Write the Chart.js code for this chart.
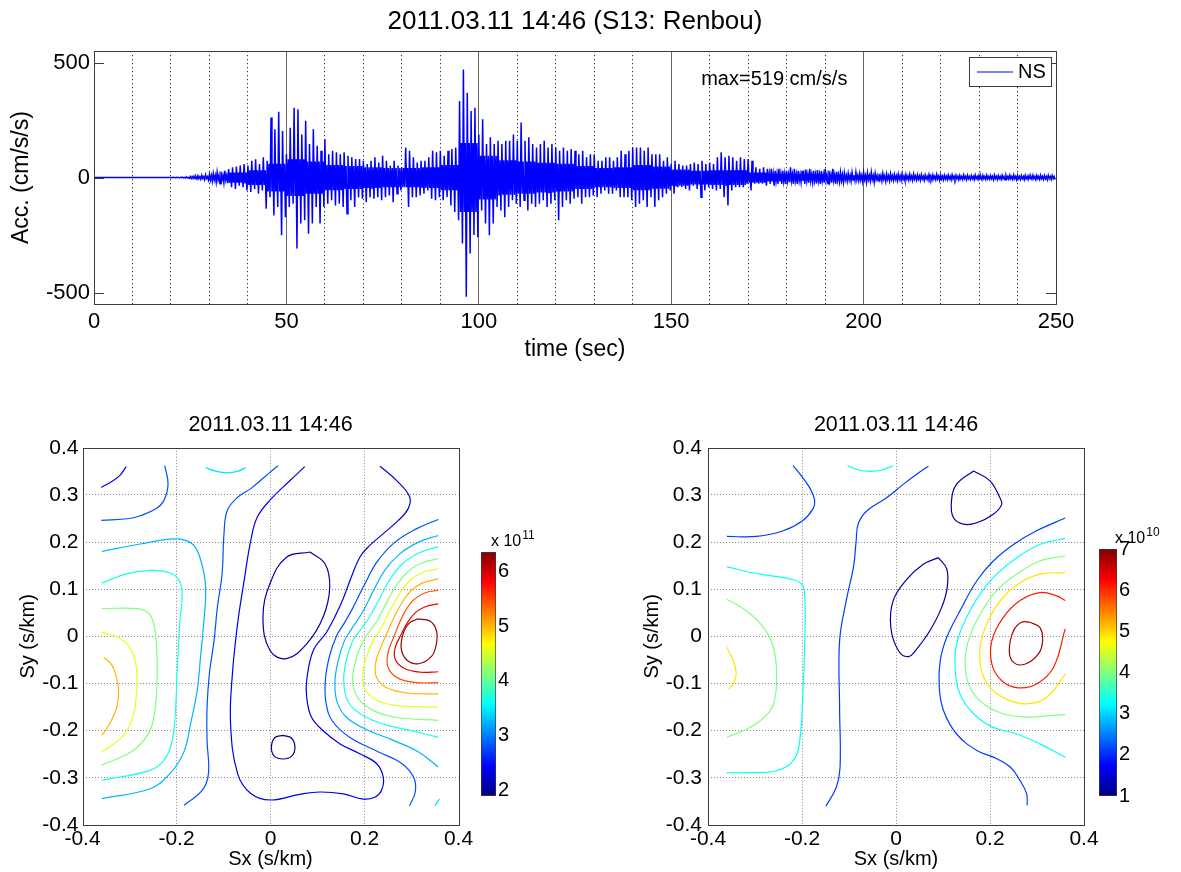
<!DOCTYPE html>
<html>
<head>
<meta charset="utf-8">
<script src="https://cdn.jsdelivr.net/npm/chart.js@4.4.1/dist/chart.umd.min.js"></script>
<style>
  body { margin: 0; background: #fff; width: 1181px; height: 872px; position: relative; overflow: hidden; }
  canvas { position: absolute; }
</style>
</head>
<body>
<canvas id="wave" width="1150" height="375" style="left:0px;top:0px"></canvas>
<canvas id="slowL" width="541" height="480" style="left:0px;top:395px"></canvas>
<canvas id="cbL" width="70" height="300" style="left:470px;top:510px"></canvas>
<canvas id="slowR" width="552" height="480" style="left:620px;top:395px"></canvas>
<canvas id="cbR" width="96" height="300" style="left:1085px;top:510px"></canvas>
<script>
// ---- waveform: per-second peak (hi) and trough (lo), cm/s/s, t = 0..249 s
const accHi = [
  0,0,0,0,0,0,0,0,0,0,
  0,0,0,0,0,0,0,0,0,0,
  0,0,0,2,3,5,6,8,10,12,
  14,18,23,26,30,37,45,48,52,59,
  52,73,80,59,88,73,261,210,287,203,
  102,217,304,297,188,247,146,210,138,117,
  167,102,117,110,102,110,95,88,81,81,
  73,59,73,88,66,95,73,52,73,52,
  45,131,117,88,66,73,73,88,117,110,
  117,95,117,124,131,333,470,369,290,304,
  188,254,146,175,146,160,146,160,160,188,
  160,240,160,175,146,131,146,160,131,146,
  131,117,131,117,124,117,102,117,88,102,
  102,73,73,88,88,73,88,117,102,117,
  131,131,131,117,131,102,102,102,73,88,
  59,73,59,52,52,59,66,59,73,59,
  66,59,88,110,88,95,88,73,88,81,
  81,73,45,38,45,38,38,30,38,30,
  30,45,38,30,30,35,38,30,33,28,
  38,30,38,25,23,20,18,22,23,18,
  23,20,23,18,16,18,15,17,14,15,
  16,13,14,15,12,13,11,13,12,14,
  12,10,11,12,10,9,11,10,9,11,
  10,9,10,9,11,9,10,9,10,11,
  10,9,10,9,10,9,10,9,10,9
];
const accLo = [
  0,0,0,0,0,0,0,0,0,0,
  0,0,0,0,0,0,0,0,0,0,
  0,0,0,-2,-3,-4,-6,-7,-9,-10,
  -16,-20,-27,-22,-24,-42,-49,-35,-42,-56,
  -63,-49,-70,-56,-135,-85,-165,-128,-251,-172,
  -128,-114,-309,-200,-186,-244,-200,-128,-200,-128,
  -114,-99,-121,-114,-128,-157,-99,-128,-85,-92,
  -107,-85,-92,-85,-99,-85,-78,-107,-70,-56,
  -42,-128,-85,-85,-78,-70,-56,-92,-99,-85,
  -99,-85,-121,-150,-186,-287,-518,-330,-250,-260,
  -143,-200,-251,-200,-128,-143,-172,-128,-99,-114,
  -128,-99,-143,-114,-128,-114,-99,-128,-114,-99,
  -186,-128,-99,-114,-92,-85,-114,-85,-85,-78,
  -85,-70,-56,-70,-70,-56,-85,-85,-85,-99,
  -128,-114,-99,-128,-85,-128,-99,-85,-70,-56,
  -70,-42,-42,-49,-56,-35,-49,-85,-56,-42,
  -49,-56,-49,-85,-121,-56,-42,-42,-42,-27,
  -56,-27,-27,-27,-35,-27,-35,-27,-27,-27,
  -20,-27,-27,-20,-27,-22,-20,-25,-27,-22,
  -27,-22,-27,-18,-20,-15,-16,-14,-13,-16,
  -20,-15,-20,-14,-15,-16,-14,-12,-13,-12,
  -13,-11,-12,-10,-11,-12,-10,-11,-9,-11,
  -10,-9,-10,-8,-9,-8,-9,-8,-9,-8,
  -9,-8,-7,-9,-8,-8,-9,-7,-8,-9,
  -8,-9,-8,-7,-9,-8,-8,-9,-8,-8
];
// half-width of the dense core of the trace, one value per 5 s block
const coreAmp = [
  0,0,0,0,1,4,10,22,32,60,
  80,70,55,50,45,42,42,45,55,150,
  95,75,70,65,60,50,42,45,55,48,
  35,30,32,32,22,17,14,14,13,10,
  9,8,7,6,6,5,5,5,5,5
];
const accTicks = [-500, 0, 500];
const waveTitle = '2011.03.11 14:46 (S13: Renbou)';
const maxNote = 'max=519 cm/s/s';

// ---- slowness maps: contour lines as [Sx, Sy] (s/km)
const plotTime = '2011.03.11 14:46';
const slowTicksX = [-0.4, -0.2, 0, 0.2, 0.4];
const slowTicksY = [-0.4, -0.3, -0.2, -0.1, 0, 0.1, 0.2, 0.3, 0.4];

// left map (x 10^11)
const lEllipse = [[0.084,0.179],[0.116,0.154],[0.126,0.104],[0.112,0.041],[0.077,-0.016],[0.034,-0.047],[-0.001,-0.03],[-0.016,0.041],[-0.001,0.112],[0.034,0.168],[0.084,0.179]];
const lCircle = [[0.027,-0.21],[0.045,-0.216],[0.052,-0.236],[0.045,-0.254],[0.027,-0.26],[0.008,-0.254],[0.002,-0.234],[0.01,-0.214],[0.027,-0.21]];
const lU = [[0.073,0.36],[0.041,0.33],[0.0,0.29],[-0.028,0.253],[-0.042,0.203],[-0.056,0.119],[-0.07,0.027],[-0.081,-0.079],[-0.085,-0.185],[-0.07,-0.291],[-0.042,-0.333],[0.0,-0.347],[0.062,-0.335],[0.105,-0.33],[0.155,-0.334],[0.197,-0.345],[0.222,-0.341],[0.236,-0.327],[0.24,-0.299],[0.226,-0.27],[0.19,-0.249],[0.148,-0.228],[0.112,-0.2],[0.087,-0.171],[0.077,-0.129],[0.077,-0.093],[0.091,-0.03],[0.12,0.01],[0.15,0.069],[0.172,0.126],[0.19,0.168],[0.208,0.19],[0.24,0.218],[0.272,0.246],[0.293,0.271],[0.296,0.296],[0.268,0.331],[0.233,0.361]];
const lTopArc = [[-0.36,0.316],[-0.335,0.33],[-0.32,0.342],[-0.307,0.36]];
const lTopBlue = [[-0.36,0.246],[-0.3,0.25],[-0.277,0.256],[-0.245,0.27],[-0.227,0.288],[-0.218,0.323],[-0.225,0.362]];
const lTopCyan = [[-0.138,0.358],[-0.115,0.35],[-0.092,0.347],[-0.07,0.35],[-0.053,0.358]];
const lBlue = [[0.016,0.362],[0.0,0.349],[-0.04,0.315],[-0.07,0.295],[-0.092,0.267],[-0.099,0.217],[-0.103,0.133],[-0.113,0.062],[-0.12,-0.008],[-0.13,-0.079],[-0.135,-0.15],[-0.135,-0.22],[-0.132,-0.291],[-0.145,-0.326],[-0.184,-0.358]];
const lLightBlue = [[-0.359,0.18],[-0.277,0.196],[-0.2,0.207],[-0.165,0.195],[-0.148,0.16],[-0.138,0.104],[-0.142,0.03],[-0.149,-0.045],[-0.156,-0.115],[-0.17,-0.185],[-0.185,-0.247],[-0.215,-0.292],[-0.256,-0.323],[-0.359,-0.344]];
const lCyan = [[-0.359,0.113],[-0.305,0.133],[-0.256,0.14],[-0.215,0.135],[-0.195,0.12],[-0.188,0.09],[-0.193,0.03],[-0.197,-0.04],[-0.2,-0.11],[-0.203,-0.17],[-0.21,-0.225],[-0.226,-0.262],[-0.256,-0.284],[-0.359,-0.305]];
const lGreen = [[-0.359,0.059],[-0.284,0.059],[-0.26,0.05],[-0.248,0.025],[-0.242,-0.03],[-0.241,-0.079],[-0.245,-0.15],[-0.256,-0.199],[-0.28,-0.232],[-0.305,-0.25],[-0.359,-0.273]];
const lYellow = [[-0.359,0.009],[-0.33,0.0],[-0.305,-0.016],[-0.29,-0.045],[-0.284,-0.079],[-0.285,-0.12],[-0.291,-0.164],[-0.305,-0.2],[-0.323,-0.22],[-0.359,-0.245]];
const lOrange = [[-0.355,-0.044],[-0.338,-0.06],[-0.33,-0.079],[-0.325,-0.1],[-0.323,-0.121],[-0.326,-0.145],[-0.332,-0.164],[-0.345,-0.19],[-0.359,-0.21]];
const lR1 = [[0.357,0.248],[0.31,0.228],[0.265,0.2],[0.228,0.16],[0.2,0.11],[0.175,0.06],[0.155,0.025],[0.14,0.0],[0.126,-0.04],[0.117,-0.09],[0.118,-0.14],[0.132,-0.18],[0.17,-0.215],[0.23,-0.245],[0.28,-0.27],[0.305,-0.3],[0.308,-0.33],[0.296,-0.359]];
const lR2 = [[0.357,0.214],[0.315,0.2],[0.275,0.175],[0.243,0.14],[0.218,0.095],[0.195,0.05],[0.172,0.015],[0.157,-0.01],[0.143,-0.055],[0.137,-0.1],[0.142,-0.14],[0.162,-0.172],[0.205,-0.198],[0.26,-0.22],[0.315,-0.245],[0.357,-0.277]];
const lR2b = [[0.35,-0.359],[0.356,-0.35],[0.36,-0.345]];
const lR3 = [[0.357,0.19],[0.318,0.178],[0.282,0.155],[0.255,0.122],[0.232,0.08],[0.21,0.04],[0.19,0.012],[0.174,-0.012],[0.16,-0.055],[0.156,-0.1],[0.165,-0.138],[0.192,-0.165],[0.24,-0.186],[0.3,-0.2],[0.357,-0.214]];
const lR4 = [[0.357,0.165],[0.32,0.155],[0.29,0.135],[0.266,0.105],[0.245,0.068],[0.225,0.03],[0.205,0.003],[0.19,-0.025],[0.178,-0.065],[0.175,-0.1],[0.188,-0.133],[0.22,-0.158],[0.27,-0.172],[0.357,-0.178]];
const lR5 = [[0.357,0.144],[0.322,0.135],[0.295,0.117],[0.274,0.09],[0.255,0.056],[0.237,0.02],[0.218,-0.01],[0.204,-0.045],[0.196,-0.08],[0.2,-0.11],[0.225,-0.135],[0.27,-0.147],[0.357,-0.15]];
const lR6 = [[0.357,0.122],[0.325,0.114],[0.3,0.098],[0.282,0.075],[0.265,0.045],[0.25,0.012],[0.236,-0.02],[0.224,-0.055],[0.225,-0.085],[0.245,-0.108],[0.29,-0.12],[0.357,-0.122]];
const lR7 = [[0.357,0.098],[0.328,0.092],[0.305,0.078],[0.288,0.056],[0.274,0.028],[0.262,-0.002],[0.25,-0.035],[0.25,-0.065],[0.27,-0.088],[0.31,-0.098],[0.357,-0.098]];
const lR8 = [[0.357,0.069],[0.332,0.064],[0.31,0.052],[0.293,0.032],[0.279,0.006],[0.265,-0.025],[0.266,-0.05],[0.285,-0.068],[0.32,-0.076],[0.357,-0.075]];
const lCore = [[0.312,0.037],[0.34,0.032],[0.353,0.012],[0.353,-0.015],[0.343,-0.042],[0.315,-0.058],[0.29,-0.05],[0.278,-0.025],[0.283,0.008],[0.295,0.028],[0.312,0.037]];
const leftLines = [lEllipse, lCircle, lU, lTopArc, lTopBlue, lTopCyan, lBlue, lLightBlue, lCyan, lGreen, lYellow, lOrange,
                   lR1, lR2, lR2b, lR3, lR4, lR5, lR6, lR7, lR8, lCore];
const leftLevels = [2.03, 2.03, 2.35, 2.35, 2.8, 3.46, 2.8, 3.24, 3.68, 4.13, 4.57, 5.0,
                    2.8, 3.24, 3.46, 3.68, 4.13, 4.57, 5.0, 5.46, 5.9, 6.26];
const leftRange = [1.9, 6.35];
const leftBarTicks = [2, 3, 4, 5, 6];

// right map (x 10^10)
const rTopBlue = [[-0.36,0.212],[-0.296,0.212],[-0.24,0.224],[-0.198,0.246],[-0.177,0.27],[-0.173,0.288],[-0.184,0.316],[-0.205,0.345],[-0.219,0.362]];
const rCyanL = [[-0.36,0.148],[-0.311,0.136],[-0.268,0.129],[-0.226,0.122],[-0.201,0.111],[-0.194,0.083],[-0.194,-0.009],[-0.198,-0.115],[-0.205,-0.222],[-0.219,-0.264],[-0.254,-0.285],[-0.311,-0.289],[-0.36,-0.289]];
const rGreenL = [[-0.36,0.079],[-0.318,0.054],[-0.282,0.019],[-0.261,-0.023],[-0.254,-0.08],[-0.261,-0.144],[-0.282,-0.173],[-0.318,-0.197],[-0.36,-0.214]];
const rOrangeL = [[-0.36,-0.023],[-0.346,-0.052],[-0.34,-0.08],[-0.346,-0.101],[-0.356,-0.112]];
const rBlueMid = [[-0.149,-0.36],[-0.127,-0.32],[-0.119,-0.278],[-0.12,-0.151],[-0.12,-0.009],[-0.105,0.08],[-0.09,0.15],[-0.085,0.2],[-0.08,0.24],[-0.06,0.268],[-0.02,0.294],[0.016,0.323],[0.044,0.344],[0.069,0.361]];
const rCyanTop = [[-0.103,0.362],[-0.08,0.353],[-0.055,0.35],[-0.03,0.353],[-0.006,0.362]];
const rLoopTop = [[0.165,0.351],[0.2,0.33],[0.221,0.294],[0.225,0.28],[0.207,0.259],[0.172,0.241],[0.143,0.238],[0.122,0.252],[0.118,0.287],[0.129,0.323],[0.165,0.351]];
const rLoopMid = [[0.09,0.167],[0.108,0.143],[0.109,0.104],[0.097,0.061],[0.072,0.012],[0.044,-0.027],[0.026,-0.043],[0.005,-0.03],[-0.011,0.019],[-0.006,0.076],[0.023,0.121],[0.058,0.153],[0.09,0.167]];
const rBlueR = [[0.36,0.251],[0.299,0.224],[0.25,0.195],[0.207,0.16],[0.172,0.118],[0.136,0.054],[0.108,-0.002],[0.094,-0.052],[0.092,-0.108],[0.101,-0.157],[0.129,-0.207],[0.172,-0.242],[0.207,-0.256],[0.243,-0.277],[0.264,-0.306],[0.278,-0.334],[0.279,-0.358]];
const rCyanR = [[0.36,0.208],[0.306,0.195],[0.257,0.167],[0.214,0.132],[0.179,0.09],[0.15,0.04],[0.129,-0.016],[0.126,-0.073],[0.136,-0.122],[0.165,-0.164],[0.207,-0.193],[0.257,-0.207],[0.306,-0.228],[0.36,-0.256]];
const rGreenR = [[0.36,0.171],[0.306,0.16],[0.257,0.132],[0.214,0.097],[0.179,0.047],[0.154,-0.009],[0.147,-0.059],[0.157,-0.108],[0.186,-0.143],[0.228,-0.164],[0.278,-0.171],[0.328,-0.168],[0.36,-0.166]];
const rOrangeR = [[0.36,0.135],[0.313,0.133],[0.271,0.118],[0.228,0.083],[0.196,0.033],[0.179,-0.023],[0.182,-0.073],[0.2,-0.108],[0.235,-0.133],[0.278,-0.143],[0.321,-0.129],[0.36,-0.08]];
const rRed = [[0.36,0.076],[0.342,0.086],[0.306,0.093],[0.264,0.076],[0.228,0.04],[0.204,-0.009],[0.204,-0.059],[0.225,-0.094],[0.26,-0.109],[0.299,-0.101],[0.335,-0.066],[0.36,0.016]];
const rCore = [[0.285,0.03],[0.306,0.019],[0.312,-0.009],[0.303,-0.037],[0.274,-0.059],[0.25,-0.055],[0.241,-0.03],[0.25,0.012],[0.267,0.03],[0.285,0.03]];
const rightLines = [rTopBlue, rCyanL, rGreenL, rOrangeL, rBlueMid, rCyanTop, rLoopTop, rLoopMid,
                    rBlueR, rCyanR, rGreenR, rOrangeR, rRed, rCore];
const rightLevels = [2.1, 3.3, 4.0, 4.9, 2.1, 3.3, 1.2, 1.2, 2.1, 3.3, 4.0, 4.9, 6.1, 6.8];
const rightRange = [1, 7];
const rightBarTicks = [1, 2, 3, 4, 5, 6, 7];

const FONT = '"Liberation Sans", Arial, Helvetica, sans-serif';
Chart.defaults.font.family = FONT;
Chart.defaults.color = '#000';
Chart.defaults.animation = false;
Chart.defaults.events = [];

// matlab jet colormap, t in [0,1]
function jet(t) {
  const c = v => Math.round(255 * Math.max(0, Math.min(1, v)));
  return `rgb(${c(1.5 - Math.abs(4 * t - 3))},${c(1.5 - Math.abs(4 * t - 2))},${c(1.5 - Math.abs(4 * t - 1))})`;
}

// empty right-hand axis, keeps the title centred over the plot box
const spacerAxis = width => ({
  position: 'right',
  ticks: { display: false },
  grid: { display: false, drawTicks: false },
  border: { display: false },
  afterFit: s => { s.width = width; }
});

const framePlugin = {
  id: 'frame',
  afterDraw(chart) {
    const { ctx, chartArea: a } = chart;
    ctx.save();
    ctx.strokeStyle = '#3c3c3c';
    ctx.lineWidth = 1;
    ctx.strokeRect(Math.round(a.left) + 0.5, Math.round(a.top) + 0.5, Math.round(a.right - a.left), Math.round(a.bottom - a.top));
    ctx.restore();
  }
};

const waveDecor = {
  id: 'waveDecor',
  afterDraw(chart) {
    const { ctx, chartArea: a, scales } = chart;
    ctx.save();
    ctx.strokeStyle = '#3c3c3c';
    ctx.lineWidth = 1;
    accTicks.forEach(v => {
      const y = Math.round(scales.y.getPixelForValue(v)) + 0.5;
      ctx.beginPath();
      ctx.moveTo(a.left, y); ctx.lineTo(a.left + 10, y);
      ctx.moveTo(a.right, y); ctx.lineTo(a.right - 10, y);
      ctx.stroke();
    });
    ctx.fillStyle = '#000';
    ctx.font = '20px ' + FONT;
    ctx.textBaseline = 'middle';
    ctx.fillText(maxNote, scales.x.getPixelForValue(157.8), scales.y.getPixelForValue(425));
    // legend box
    const bx = Math.round(a.right) - 87, by = Math.round(a.top) + 6, bw = 82, bh = 29;
    ctx.fillStyle = '#fff';
    ctx.fillRect(bx, by, bw, bh);
    ctx.strokeStyle = '#3c3c3c';
    ctx.strokeRect(bx + 0.5, by + 0.5, bw, bh);
    ctx.strokeStyle = chart.data.datasets[0].borderColor;
    ctx.lineWidth = 1;
    ctx.beginPath();
    ctx.moveTo(bx + 8, by + bh / 2 + 0.5); ctx.lineTo(bx + 44, by + bh / 2 + 0.5);
    ctx.stroke();
    ctx.fillStyle = '#000';
    ctx.fillText(chart.data.datasets[0].label, bx + 49, by + bh / 2 + 1);
    ctx.restore();
  }
};

// 4 samples a second: peak, core low, core high, trough
const wavePoints = [];
accHi.forEach((v, i) => {
  const core = coreAmp[Math.floor(i / 5)];
  wavePoints.push(
    { x: i, y: v },
    { x: i + 0.25, y: -core },
    { x: i + 0.5, y: core },
    { x: i + 0.75, y: accLo[i] }
  );
});

new Chart(document.getElementById('wave'), {
  type: 'line',
  data: {
    datasets: [{
      label: 'NS',
      data: wavePoints,
      borderColor: '#0000ff',
      borderWidth: 1.5,
      pointRadius: 0,
      tension: 0
    }]
  },
  options: {
    responsive: false,
    plugins: {
      legend: { display: false },
      tooltip: { enabled: false },
      title: {
        display: true, text: waveTitle, color: '#000',
        font: { size: 26, weight: 'normal' },
        padding: { top: 6, bottom: 14 }
      }
    },
    scales: {
      x: {
        type: 'linear', min: 0, max: 250,
        ticks: {
          stepSize: 10, autoSkip: false, maxRotation: 0, padding: 5,
          font: { size: 22 },
          callback: v => (v % 50 === 0 ? v : '')
        },
        grid: {
          drawTicks: false,
          color: c => (c.tick && c.tick.value % 50 === 0 ? 'rgba(0,0,0,0)' : '#000')
        },
        border: { display: false, dash: [1, 3] },
        title: { display: true, text: 'time (sec)', font: { size: 23 }, padding: { top: 0, bottom: 12 } },
        afterFit: s => { s.height = 71; }
      },
      xMajor: {
        type: 'linear', position: 'bottom', min: 0, max: 250,
        ticks: { display: false, stepSize: 50 },
        grid: { color: '#666', drawTicks: false },
        border: { display: false },
        afterFit: s => { s.height = 0; }
      },
      y: {
        min: -550, max: 550,
        afterBuildTicks: s => { s.ticks = accTicks.map(v => ({ value: v })); },
        ticks: { font: { size: 22 }, padding: 4 },
        grid: { display: false, drawTicks: false },
        border: { display: false },
        title: { display: true, text: 'Acc. (cm/s/s)', font: { size: 23 }, padding: { top: 8 } },
        afterFit: s => { s.width = 94; }
      },
      pad: spacerAxis(94)
    }
  },
  plugins: [framePlugin, waveDecor]
});

function slownessChart(id, lines, levels, range, yWidth, yTitlePad, yTickPad) {
  return new Chart(document.getElementById(id), {
    type: 'scatter',
    data: {
      datasets: lines.map((pts, i) => ({
        data: pts.map(p => ({ x: p[0], y: p[1] })),
        borderColor: jet((levels[i] - range[0]) / (range[1] - range[0])),
        borderWidth: 1.2,
        showLine: true,
        pointRadius: 0,
        tension: 0.4
      }))
    },
    options: {
      responsive: false,
      plugins: {
        legend: { display: false },
        tooltip: { enabled: false },
        title: {
          display: true, text: plotTime, color: '#000',
          font: { size: 21.5, weight: 'normal' },
          padding: { top: 17, bottom: 10 }
        }
      },
      scales: {
        x: {
          type: 'linear', min: -0.4, max: 0.4,
          afterBuildTicks: s => { s.ticks = slowTicksX.map(v => ({ value: v })); },
          ticks: { font: { size: 21 }, padding: 2, maxRotation: 0, autoSkip: false, callback: v => String(+v.toFixed(1)) },
          grid: { drawTicks: false, color: c => (c.tick && Math.abs(c.tick.value) > 0.39 ? 'rgba(0,0,0,0)' : '#8a8a8a') },
          border: { display: false, dash: [1, 2] },
          title: { display: true, text: 'Sx (s/km)', font: { size: 20 }, padding: { top: 0, bottom: 4 } },
          afterFit: s => { s.height = 50; }
        },
        y: {
          type: 'linear', min: -0.4, max: 0.4,
          afterBuildTicks: s => { s.ticks = slowTicksY.map(v => ({ value: v })); },
          ticks: { font: { size: 21 }, padding: yTickPad, autoSkip: false, callback: v => String(+v.toFixed(1)) },
          grid: { drawTicks: false, color: c => (c.tick && Math.abs(c.tick.value) > 0.39 ? 'rgba(0,0,0,0)' : '#8a8a8a') },
          border: { display: false, dash: [1, 2] },
          title: { display: true, text: 'Sy (s/km)', font: { size: 20 }, padding: { top: yTitlePad } },
          afterFit: s => { s.width = yWidth; }
        },
        pad: spacerAxis(yWidth)
      }
    },
    plugins: [framePlugin]
  });
}

const exponentPlugin = {
  id: 'exponent',
  afterDraw(chart, args, o) {
    const { ctx, chartArea: a } = chart;
    ctx.save();
    ctx.fillStyle = '#000';
    ctx.textBaseline = 'alphabetic';
    ctx.font = '16px ' + FONT;
    ctx.fillText('x 10', a.left + o.dx, a.top - o.dy);
    const w = ctx.measureText('x 10').width;
    ctx.font = '12px ' + FONT;
    ctx.fillText(o.power, a.left + o.dx + w + 1, a.top - o.dy - 7);
    ctx.restore();
  }
};

function colorBar(id, range, ticks, pad, yWidth, power, dx, dy) {
  return new Chart(document.getElementById(id), {
    type: 'bar',
    data: {
      labels: [''],
      datasets: [{
        data: [range],
        backgroundColor: ctx => {
          const { chart } = ctx;
          if (!chart.chartArea) return '#00f';
          const y = chart.scales.y;
          const g = chart.ctx.createLinearGradient(0, y.getPixelForValue(range[0]), 0, y.getPixelForValue(range[1]));
          [0, 0.125, 0.375, 0.625, 0.875, 1].forEach(t => g.addColorStop(t, jet(t)));
          return g;
        },
        borderColor: '#3c3c3c',
        borderWidth: 1,
        borderSkipped: false,
        barPercentage: 1,
        categoryPercentage: 1
      }]
    },
    options: {
      responsive: false,
      layout: { padding: pad },
      plugins: { legend: { display: false }, tooltip: { enabled: false }, exponent: { power, dx, dy } },
      scales: {
        x: { display: false },
        y: {
          position: 'right', min: range[0], max: range[1],
          afterBuildTicks: s => { s.ticks = ticks.map(v => ({ value: v })); },
          ticks: { font: { size: 20 }, padding: 2 },
          grid: { display: false, drawTicks: false },
          border: { display: false },
          afterFit: s => { s.width = yWidth; }
        }
      }
    },
    plugins: [exponentPlugin]
  });
}

slownessChart('slowL', leftLines, leftLevels, leftRange, 82.5, 16, 4);
slownessChart('slowR', rightLines, rightLevels, rightRange, 88, 20, 6);
colorBar('cbL', leftRange, leftBarTicks, { left: 11, right: 0, top: 42, bottom: 9 }, 44, '11', 10, 6);
colorBar('cbR', rightRange, rightBarTicks, { left: 14, right: 0, top: 39, bottom: 13 }, 64, '10', 16, 6);
</script>
</body>
</html>
